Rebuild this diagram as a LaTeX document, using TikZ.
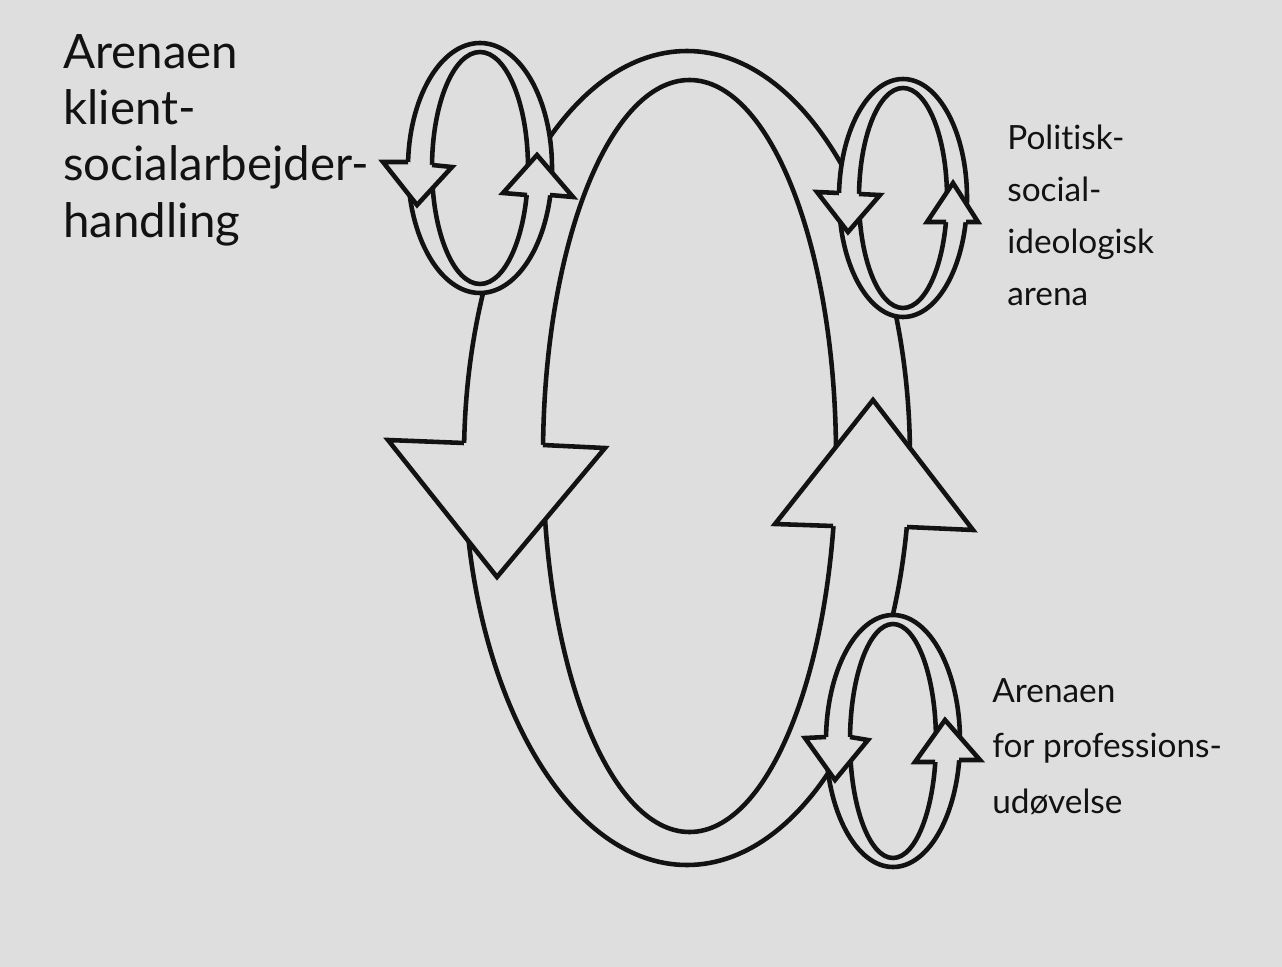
\documentclass[tikz,border=0pt]{standalone}
\usepackage{fontspec}
\setmainfont{Lato}[Ligatures=NoCommon]
\usetikzlibrary{positioning}
\definecolor{paper}{rgb}{0.87,0.87,0.87}
\definecolor{ink}{rgb}{0.07,0.07,0.07}
\tikzset{
  band/.style={draw=ink, line width=2.6pt},
  bandfill/.style={band, fill=paper},
  blockhead/.style={draw=ink, fill=paper, line width=2.6pt, line join=miter},
  lbl/.style={anchor=base west, align=left, inner sep=0pt, text=ink}
}
\newcommand{\bigtext}{\fontsize{27}{32}\selectfont}
\newcommand{\smalltext}[1]{\fontsize{19}{#1}\selectfont}

\begin{document}
\begin{tikzpicture}[x=0.02cm, y=-0.02cm]
    \fill[paper] (0,0) rectangle (1282,967);
    \useasboundingbox (0,0) rectangle (1282,967);

    % big ring
    \coordinate (ring) at (687,458);
    \coordinate (ring_in) at (689.5,456);
    \draw[band] (ring) ellipse [x radius=223, y radius=407];
    \draw[band] (ring_in) ellipse [x radius=146.5, y radius=376];
    \draw[blockhead] (464,443) -- (388,440) -- (497,577) -- (605,448) -- (543,445);
    \draw[blockhead] (833,526) -- (775,524) -- (873,400) -- (973,530) -- (907,527);

    % small loops
    \coordinate (client_loop) at (480,168);
    \draw[bandfill] (client_loop) ellipse [x radius=72, y radius=125];
    \draw[band] (client_loop) ellipse [x radius=48, y radius=116];
    \draw[blockhead] (408,162) -- (383,162) -- (417,205) -- (452,167) -- (432,165);
    \draw[blockhead] (527,195) -- (503,193) -- (537,155) -- (573,197) -- (550,195);

    \coordinate (politics_loop) at (903,198);
    \draw[bandfill] (politics_loop) ellipse [x radius=64, y radius=119];
    \draw[band] (politics_loop) ellipse [x radius=44, y radius=110];
    \draw[blockhead] (839,193) -- (817,192) -- (848,232) -- (880,195) -- (859,194);
    \draw[blockhead] (946,222) -- (927,222) -- (953,183) -- (978,222) -- (966,222);

    \coordinate (profession_loop) at (893,741);
    \draw[bandfill] (profession_loop) ellipse [x radius=67, y radius=126];
    \draw[band] (profession_loop) ellipse [x radius=43, y radius=117];
    \draw[blockhead] (826,737) -- (805,738) -- (835,780) -- (868,740) -- (850,737);
    \draw[blockhead] (935,762) -- (915,762) -- (945,720) -- (980,760) -- (959,760);

    % labels (base = last line)
    \node[lbl, font=\bigtext] (client) at (63,237) {Arenaen\\klient-\\socialarbejder-\\handling};
    \node[lbl, font=\smalltext{29.5}] (politics) at (1007,305) {Politisk-\\social-\\ideologisk\\arena};
    \node[lbl, font=\smalltext{31.5}] (profession) at (992,813) {Arenaen\\for professions-\\udøvelse};
\end{tikzpicture}
\end{document}
